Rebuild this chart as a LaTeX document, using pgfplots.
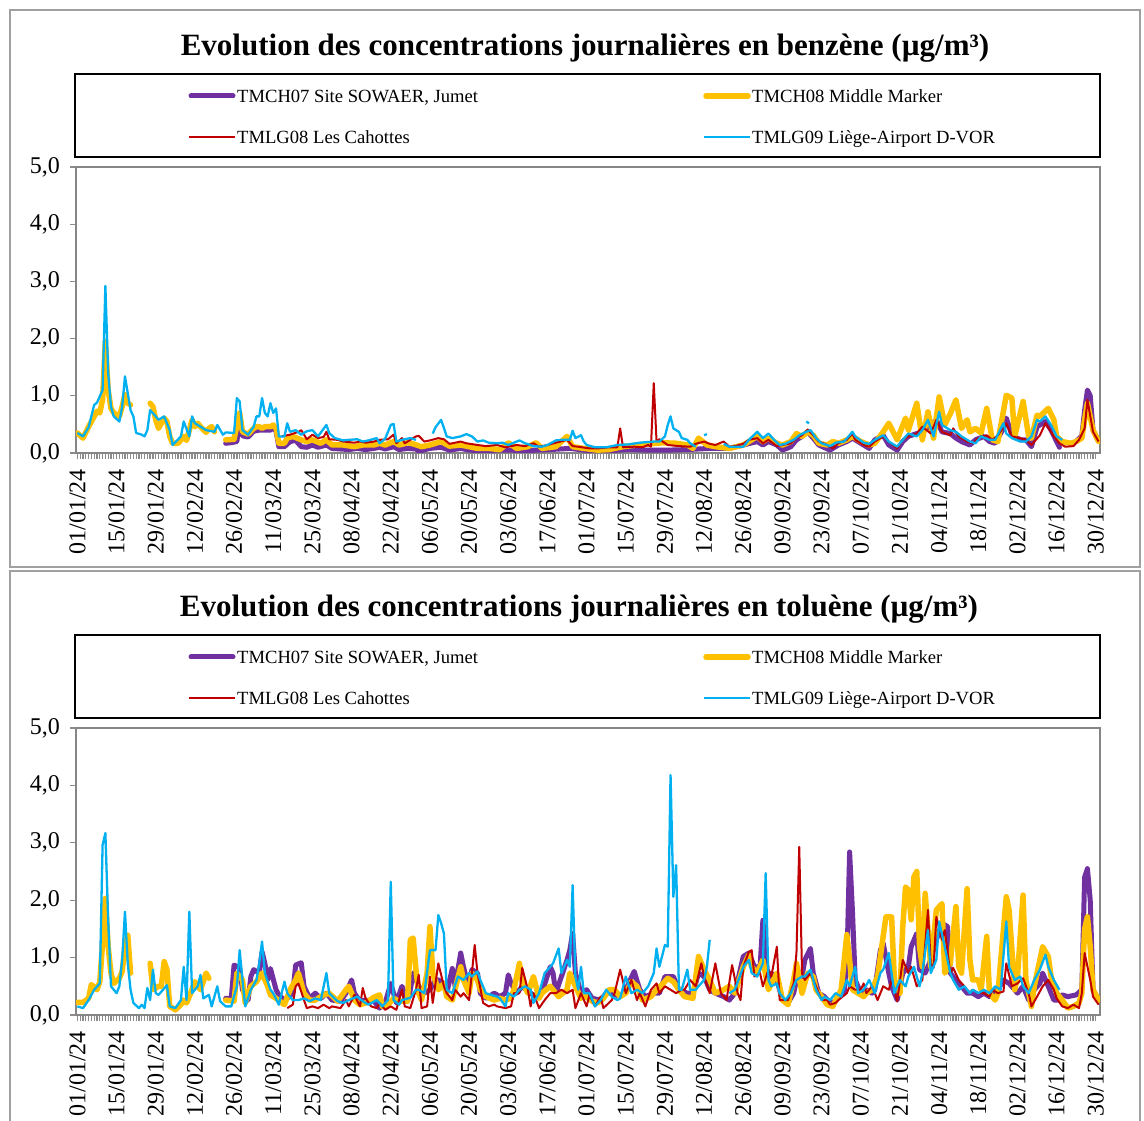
\documentclass[border=0pt]{standalone}
\usepackage{fontspec}
\setmainfont{Liberation Serif}
\usepackage{pgfplots}
\pgfplotsset{compat=1.18}
\definecolor{purp}{RGB}{112,48,160}
\definecolor{gold}{RGB}{255,192,0}
\definecolor{dred}{RGB}{192,0,0}
\definecolor{lblue}{RGB}{0,176,240}
\definecolor{axisgray}{RGB}{134,134,134}
\definecolor{tickgray}{RGB}{140,140,140}
\definecolor{framegray}{RGB}{160,160,160}
\pgfplotsset{
 panel/.style={
  scale only axis, width=1024pt, height=286pt, anchor=south west,
  xmin=-0.5, xmax=365.5, ymin=0, ymax=5,
  xtick={0,14,...,364},
  xticklabels={01/01/24,15/01/24,29/01/24,12/02/24,26/02/24,11/03/24,25/03/24,08/04/24,22/04/24,06/05/24,20/05/24,03/06/24,17/06/24,01/07/24,15/07/24,29/07/24,12/08/24,26/08/24,09/09/24,23/09/24,07/10/24,21/10/24,04/11/24,18/11/24,02/12/24,16/12/24,30/12/24},
  minor x tick num=13,
  ytick={0,1,2,3,4,5},
  tick align=outside,
  xtick pos=bottom, ytick pos=left,
  major tick length=6pt, minor tick length=6pt,
  every tick/.style={draw=tickgray, line width=1.3pt},
  axis line style={draw=axisgray, line width=2.4pt},
  tick label style={font=\fontsize{24}{28}\selectfont},
  xticklabel style={rotate=90, anchor=east, inner sep=1pt},
  yticklabel style={inner sep=1pt},
  xticklabel shift=9pt, yticklabel shift=9pt,
  /pgf/number format/use comma, /pgf/number format/fixed,
  /pgf/number format/fixed zerofill, /pgf/number format/precision=1,
  /pgf/number format/assume math mode=true,
  unbounded coords=jump,
 },
 sA/.style={draw=purp, line width=5pt, line join=round, line cap=round, no markers},
 sB/.style={draw=gold, line width=5.5pt, line join=round, line cap=round, no markers},
 sC/.style={draw=dred, line width=2pt, line join=round, no markers},
 sD/.style={draw=lblue, line width=2.3pt, line join=round, no markers},
}
\newcommand\legendblock[1]{%
  \draw[black, line width=2pt] (75,#1-83) rectangle (1100,#1);
  \draw[purp, line width=5pt, line cap=round] (191,#1-22) -- (233,#1-22);
  \node[anchor=base west, inner sep=0pt, font=\fontsize{18.6}{22}\selectfont] at (237,#1-28.5) {TMCH07 Site SOWAER, Jumet};
  \draw[gold, line width=5.5pt, line cap=round] (706,#1-22) -- (748,#1-22);
  \node[anchor=base west, inner sep=0pt, font=\fontsize{18.6}{22}\selectfont] at (752,#1-28.5) {TMCH08 Middle Marker};
  \draw[dred, line width=2pt] (189,#1-63) -- (235,#1-63);
  \node[anchor=base west, inner sep=0pt, font=\fontsize{18.6}{22}\selectfont] at (237,#1-69.5) {TMLG08 Les Cahottes};
  \draw[lblue, line width=2.3pt] (704,#1-63) -- (750,#1-63);
  \node[anchor=base west, inner sep=0pt, font=\fontsize{18.6}{22}\selectfont] at (752,#1-69.5) {TMLG09 Liège-Airport D-VOR};
}
\begin{document}
\begin{tikzpicture}[x=1pt,y=1pt]
\useasboundingbox (0,0) rectangle (1144,1120);
\fill[white] (0,0) rectangle (1144,1120);
% frames
\draw[framegray, line width=2.5pt] (10,553) rectangle (1140,1110);
\draw[framegray, line width=2.5pt] (10,-10) rectangle (1140,549);
% titles
\node[font=\bfseries\fontsize{31}{36}\selectfont] at (585,1072) {Evolution des concentrations journalières en benzène (µg/m³)};
\node[font=\bfseries\fontsize{31}{36}\selectfont] at (579,511) {Evolution des concentrations journalières en toluène (µg/m³)};
\legendblock{1046}
\legendblock{485}

% ---------------- benzene ----------------
\begin{axis}[panel, at={(76pt,667pt)}]
\addplot[sA] coordinates {(53,0.17)(55,0.18)(57,0.20)(58,0.60)(59,0.30)(61,0.28)(63,0.38)(65,0.40)(67,0.40)(69,0.40)(70,0.44)(71,0.38)(72,0.11)(74,0.11)(76,0.20)(78,0.22)(80,0.11)(82,0.10)(84,0.14)(86,0.10)(89,0.14)(91,0.08)(94,0.07)(97,0.06)(100,0.08)(103,0.06)(106,0.08)(108,0.10)(110,0.07)(113,0.11)(115,0.06)(118,0.08)(121,0.07)(122,0.03)(126,0.08)(130,0.10)(133,0.05)(137,0.08)(140,0.05)(145,0.04)(150,0.05)(155,0.05)(160,0.04)(164,0.05)(169,0.06)(176,0.08)(183,0.04)(190,0.04)(197,0.06)(204,0.05)(211,0.05)(218,0.06)(226,0.08)(233,0.08)(238,0.14)(243,0.20)(245,0.14)(247,0.20)(250,0.14)(252,0.05)(255,0.11)(257,0.23)(259,0.29)(261,0.37)(263,0.26)(265,0.14)(269,0.05)(272,0.14)(275,0.20)(277,0.26)(280,0.17)(283,0.08)(285,0.23)(288,0.31)(290,0.14)(293,0.05)(295,0.20)(297,0.29)(300,0.34)(302,0.37)(305,0.49)(307,0.58)(309,0.37)(312,0.34)(314,0.26)(316,0.20)(319,0.14)(321,0.23)(324,0.29)(326,0.20)(328,0.17)(331,0.43)(332,0.61)(334,0.31)(337,0.23)(339,0.23)(341,0.11)(343,0.46)(344,0.49)(346,0.55)(348,0.40)(350,0.20)(351,0.10)(352,nan)(357,0.20)(359,0.30)(360,0.75)(361,1.10)(362,1.00)(363,0.40)(365,0.20)};
\addplot[sB] coordinates {(0,0.35)(2,0.26)(4,0.46)(7,0.73)(8,0.70)(9,0.93)(10,1.95)(11,1.10)(12,0.78)(13,0.70)(15,0.64)(16,0.81)(17,1.02)(18,0.87)(19,0.84)(20,nan)(26,0.87)(27,0.81)(28,0.58)(29,0.43)(31,0.61)(32,0.55)(33,0.29)(34,0.17)(36,0.17)(38,0.29)(39,0.22)(41,0.58)(42,0.46)(43,0.52)(44,0.46)(46,0.36)(47,0.43)(48,0.46)(49,0.37)(50,nan)(53,0.23)(56,0.24)(58,0.70)(59,0.37)(61,0.33)(63,0.43)(64,0.46)(65,0.46)(66,0.43)(67,0.46)(69,0.46)(70,0.49)(71,0.43)(72,0.17)(74,0.17)(75,0.26)(77,0.29)(80,0.23)(82,0.20)(84,0.23)(87,0.17)(89,0.23)(91,0.14)(95,0.14)(99,0.11)(102,0.14)(106,0.14)(108,0.17)(110,0.14)(113,0.20)(115,0.14)(118,0.18)(120,0.16)(123,0.11)(126,0.14)(130,0.20)(133,0.12)(137,0.14)(143,0.08)(147,0.08)(151,0.06)(154,0.18)(157,0.08)(161,0.11)(164,0.18)(166,0.08)(171,0.11)(175,0.29)(177,0.11)(181,0.08)(186,0.05)(190,0.06)(195,0.11)(200,0.14)(205,0.16)(209,0.18)(214,0.17)(218,0.14)(220,0.08)(222,0.26)(225,0.14)(228,0.11)(233,0.08)(238,0.14)(240,0.20)(243,0.29)(245,0.20)(247,0.26)(250,0.17)(252,0.14)(255,0.20)(257,0.34)(259,0.29)(261,0.37)(263,0.31)(265,0.17)(268,0.14)(270,0.20)(272,0.17)(275,0.23)(277,0.29)(280,0.20)(283,0.14)(285,0.17)(288,0.37)(290,0.52)(293,0.23)(296,0.61)(297,0.40)(300,0.87)(302,0.23)(304,0.72)(306,0.26)(308,0.98)(310,0.49)(312,0.69)(314,0.93)(316,0.43)(318,0.58)(319,0.37)(321,0.43)(323,0.35)(325,0.78)(327,0.23)(329,0.20)(332,1.01)(334,0.96)(335,0.29)(338,0.90)(340,0.29)(341,0.26)(343,0.66)(344,0.64)(347,0.78)(349,0.58)(350,0.29)(352,0.20)(355,0.17)(357,0.20)(359,0.26)(360,0.58)(361,0.87)(363,0.40)(365,0.20)};
\addplot[sC] coordinates {(73,0.29)(76,0.32)(79,0.37)(80,0.40)(82,0.24)(84,0.32)(86,0.26)(88,0.28)(89,0.37)(90,0.24)(93,0.23)(95,0.20)(99,0.18)(101,0.20)(103,0.18)(106,0.20)(108,0.23)(111,0.24)(113,0.32)(114,0.17)(116,0.26)(117,0.17)(119,0.23)(121,0.29)(122,0.30)(124,0.20)(126,0.22)(129,0.26)(131,0.24)(133,0.16)(137,0.20)(139,0.17)(143,0.14)(146,0.12)(150,0.14)(153,0.10)(157,0.14)(160,0.12)(163,0.17)(165,0.11)(168,0.14)(171,0.18)(175,0.23)(177,0.12)(179,0.11)(183,0.08)(186,0.08)(190,0.10)(193,0.10)(194,0.43)(195,0.10)(199,0.11)(202,0.10)(204,0.14)(205,0.11)(206,1.22)(207,0.20)(208,0.24)(211,0.14)(215,0.12)(219,0.11)(221,0.16)(224,0.20)(226,0.16)(228,0.14)(231,0.20)(233,0.11)(235,0.12)(238,0.16)(240,0.23)(243,0.26)(245,0.17)(247,0.23)(250,0.12)(252,0.14)(255,0.17)(257,0.26)(259,0.31)(261,0.41)(263,0.31)(265,0.20)(268,0.14)(270,0.08)(272,0.17)(275,0.23)(277,0.34)(278,0.23)(281,0.14)(283,0.11)(285,0.20)(288,0.29)(290,0.20)(293,0.08)(295,0.23)(297,0.29)(300,0.34)(302,0.46)(305,0.34)(307,0.58)(309,0.37)(312,0.31)(313,0.43)(315,0.29)(318,0.20)(320,0.17)(322,0.26)(325,0.31)(327,0.23)(329,0.31)(332,0.52)(334,0.29)(337,0.26)(339,0.23)(341,0.14)(344,0.31)(346,0.52)(349,0.29)(351,0.17)(353,0.11)(356,0.12)(358,0.23)(360,0.43)(361,0.93)(363,0.37)(365,0.20)};
\addplot[sD] coordinates {(0,0.35)(2,0.29)(4,0.45)(6,0.84)(7,0.88)(9,1.10)(10,2.92)(11,1.40)(12,0.81)(13,0.64)(15,0.55)(16,0.81)(17,1.34)(19,0.75)(20,0.64)(21,0.35)(23,0.32)(24,0.29)(25,0.40)(26,0.75)(28,0.64)(29,0.58)(31,0.64)(33,0.40)(34,0.14)(37,0.29)(38,0.55)(40,0.29)(41,0.64)(42,0.52)(44,0.46)(46,0.40)(49,0.37)(50,0.49)(52,0.32)(53,0.36)(56,0.35)(57,0.96)(58,0.90)(59,0.40)(61,0.32)(63,0.46)(64,0.64)(65,0.64)(66,0.96)(67,0.70)(68,0.64)(69,0.87)(70,0.70)(71,0.78)(72,0.29)(74,0.29)(75,0.52)(76,0.37)(78,0.40)(80,0.32)(82,0.38)(84,0.40)(86,0.29)(89,0.49)(90,0.35)(92,0.26)(95,0.22)(97,0.23)(100,0.24)(102,0.20)(104,0.22)(107,0.26)(108,0.17)(110,0.25)(112,0.49)(113,0.51)(114,0.20)(116,0.23)(119,0.26)(121,0.23)(122,nan)(127,0.34)(128,0.45)(130,0.58)(132,0.29)(134,0.26)(137,0.29)(139,0.33)(141,0.29)(143,0.20)(145,0.22)(147,0.18)(150,0.17)(152,0.18)(154,0.14)(158,0.22)(160,0.17)(163,0.12)(166,0.11)(168,0.14)(171,0.22)(173,0.23)(176,0.23)(177,0.39)(178,0.26)(180,0.31)(181,0.20)(182,0.14)(185,0.10)(189,0.10)(193,0.14)(197,0.15)(201,0.18)(206,0.20)(208,0.20)(210,0.29)(211,0.49)(212,0.64)(213,0.43)(215,0.37)(216,0.26)(218,0.23)(219,0.17)(221,0.11)(222,nan)(224,0.31)(225,0.33)(226,nan)(231,0.16)(233,0.11)(238,0.11)(240,0.23)(243,0.37)(245,0.26)(247,0.34)(249,0.23)(251,0.14)(253,0.16)(256,0.23)(258,0.31)(260,0.36)(262,0.40)(264,0.26)(266,0.17)(269,0.12)(271,0.18)(274,0.20)(276,0.31)(277,0.37)(278,0.29)(281,0.18)(283,0.16)(285,0.23)(288,0.31)(290,0.20)(293,0.11)(295,0.23)(297,0.34)(300,0.29)(302,0.40)(304,0.58)(306,0.29)(308,0.72)(309,0.49)(312,0.40)(314,0.37)(316,0.29)(319,0.20)(321,0.17)(323,0.29)(326,0.23)(328,0.23)(331,0.52)(332,0.34)(334,0.26)(337,0.20)(339,0.20)(341,0.29)(343,0.58)(344,0.55)(346,0.64)(348,0.49)(350,0.29)(352,0.23)};
\addplot[sD, forget plot] coordinates {(260.5,0.55)(261.5,0.52)};
\end{axis}

% ---------------- toluene ----------------
\begin{axis}[panel, at={(76pt,105pt)}, height=287pt]
\addplot[sA] coordinates {(53,0.29)(55,0.29)(56,0.87)(58,0.82)(59,0.44)(61,0.26)(62,0.67)(63,0.79)(65,0.73)(66,1.10)(67,0.90)(68,0.61)(69,0.81)(71,0.44)(72,0.35)(74,0.26)(75,0.29)(77,0.38)(78,0.87)(80,0.91)(81,0.50)(83,0.29)(85,0.38)(87,0.29)(89,0.38)(91,0.26)(94,0.24)(96,0.38)(98,0.61)(99,0.38)(101,0.24)(103,0.26)(106,0.24)(108,0.12)(110,0.21)(112,0.55)(114,0.21)(116,0.50)(118,0.24)(119,0.44)(120,0.73)(122,0.50)(124,0.38)(126,0.44)(128,0.61)(129,0.61)(131,0.55)(132,0.38)(134,0.81)(135,0.50)(137,1.08)(138,0.84)(140,0.44)(141,0.79)(143,0.73)(144,0.38)(146,0.29)(149,0.38)(151,0.32)(153,0.38)(154,0.70)(155,0.55)(157,0.38)(159,0.50)(162,0.38)(164,0.32)(166,0.38)(169,0.84)(170,0.73)(171,0.38)(173,0.67)(175,0.96)(176,1.13)(177,1.42)(178,0.73)(180,0.38)(182,0.44)(184,0.29)(187,0.26)(189,0.38)(191,0.38)(194,0.32)(196,0.44)(199,0.76)(201,0.44)(203,0.32)(206,0.38)(208,0.38)(210,0.67)(213,0.67)(215,0.44)(218,0.38)(220,0.38)(222,0.73)(224,0.67)(226,0.44)(228,0.38)(231,0.32)(233,0.26)(235,0.38)(238,1.02)(240,1.08)(242,0.84)(244,0.84)(245,1.65)(247,0.50)(248,0.73)(250,0.61)(252,0.26)(254,0.21)(256,0.38)(257,0.61)(259,0.67)(260,0.96)(262,1.16)(263,0.73)(265,0.38)(267,0.32)(269,0.21)(271,0.24)(272,0.32)(274,0.38)(275,0.84)(276,2.84)(277,1.83)(278,0.61)(280,0.38)(282,0.44)(284,0.38)(285,0.44)(287,1.13)(288,1.25)(290,0.73)(291,0.50)(293,0.26)(295,0.73)(297,0.84)(298,1.19)(300,1.42)(301,0.79)(303,0.73)(305,0.96)(307,1.31)(309,1.60)(311,1.54)(312,0.73)(314,0.61)(316,0.50)(318,0.38)(320,0.38)(322,0.32)(324,0.38)(326,0.32)(327,0.38)(329,0.44)(331,0.61)(333,0.55)(335,0.44)(336,0.38)(338,0.50)(340,0.26)(342,0.44)(344,0.55)(345,0.73)(347,0.50)(349,0.26)(351,0.26)(352,0.35)(354,0.32)(357,0.35)(359,0.44)(360,2.40)(361,2.55)(362,2.00)(363,0.44)(365,0.26)};
\addplot[sB] coordinates {(0,0.22)(2,0.22)(4,0.29)(5,0.53)(7,0.44)(8,0.58)(9,1.25)(10,2.03)(11,1.19)(12,0.73)(13,0.55)(15,0.64)(16,0.76)(17,1.19)(18,1.39)(19,0.73)(20,nan)(26,0.90)(27,0.44)(29,0.50)(30,0.50)(31,0.93)(32,0.79)(33,0.15)(35,0.09)(37,0.18)(38,0.26)(39,0.21)(40,0.32)(42,0.58)(44,0.44)(46,0.73)(47,0.64)(48,nan)(53,0.26)(56,0.24)(57,0.73)(59,0.61)(60,0.21)(62,0.50)(64,0.58)(66,0.73)(68,0.50)(69,0.35)(71,0.29)(74,0.18)(76,0.44)(78,0.61)(79,0.73)(81,0.38)(83,0.26)(85,0.26)(88,0.35)(90,0.38)(93,0.24)(96,0.44)(97,0.50)(99,0.26)(101,0.18)(103,0.21)(106,0.31)(108,0.35)(109,0.15)(111,0.18)(113,0.29)(115,0.24)(118,0.24)(119,1.31)(120,1.34)(121,0.79)(122,0.38)(123,0.26)(125,0.73)(126,1.54)(127,0.73)(129,0.44)(131,0.55)(132,0.32)(134,0.26)(137,0.84)(138,0.61)(140,0.38)(141,0.73)(143,0.61)(144,0.44)(146,0.32)(149,0.26)(151,0.29)(153,0.26)(155,0.29)(156,0.44)(158,0.90)(159,0.58)(161,0.38)(163,0.67)(165,0.29)(166,0.38)(169,0.50)(170,0.44)(172,0.32)(175,0.44)(176,0.73)(178,0.50)(180,0.29)(181,0.35)(184,0.24)(186,0.21)(188,0.29)(190,0.44)(192,0.44)(194,0.32)(196,0.38)(198,0.58)(200,0.50)(202,0.26)(205,0.32)(207,0.44)(209,0.53)(211,0.64)(213,0.58)(215,0.44)(217,0.32)(220,0.29)(222,1.02)(224,0.79)(226,0.61)(228,0.38)(231,0.44)(233,0.50)(235,0.38)(238,0.84)(240,1.05)(241,0.84)(243,0.73)(245,0.96)(247,0.44)(248,0.55)(250,0.73)(252,0.26)(254,0.18)(256,0.61)(257,0.90)(259,0.38)(261,0.73)(263,0.67)(264,0.44)(266,0.32)(268,0.18)(270,0.15)(272,0.35)(273,0.44)(275,1.40)(276,0.96)(277,0.44)(279,0.38)(281,0.32)(282,0.38)(284,0.44)(286,0.67)(288,1.37)(289,1.71)(291,1.71)(292,0.61)(294,0.38)(295,1.54)(296,2.23)(297,2.18)(298,1.66)(299,2.41)(300,2.50)(301,1.19)(302,0.84)(303,2.12)(305,0.84)(307,1.83)(309,1.94)(310,0.73)(312,0.90)(314,1.89)(315,0.84)(316,0.73)(318,2.20)(319,0.96)(320,0.61)(322,0.61)(323,0.44)(325,1.37)(326,0.38)(328,0.26)(329,0.38)(332,2.06)(333,1.83)(335,0.44)(336,0.67)(338,2.09)(339,0.61)(341,0.15)(342,0.50)(345,1.19)(347,1.02)(348,0.67)(350,0.38)(352,0.26)(354,0.12)(356,0.15)(358,0.21)(359,0.38)(360,1.50)(361,1.71)(362,1.19)(363,0.44)(365,0.26)};
\addplot[sC] coordinates {(75,0.12)(77,0.18)(78,0.50)(79,0.55)(81,0.26)(82,0.12)(84,0.15)(86,0.12)(88,0.18)(90,0.12)(91,0.15)(94,0.12)(96,0.26)(97,0.15)(99,0.35)(101,0.15)(102,0.47)(103,0.29)(105,0.15)(107,0.12)(108,0.21)(110,0.09)(112,0.15)(114,0.09)(116,0.44)(117,0.15)(119,0.12)(121,0.44)(122,0.70)(123,0.12)(125,0.15)(126,0.67)(127,0.21)(129,0.90)(131,0.50)(132,0.38)(134,0.26)(135,0.44)(137,0.32)(138,0.38)(140,0.26)(141,0.73)(142,1.22)(143,0.73)(145,0.21)(147,0.15)(149,0.18)(150,0.15)(153,0.12)(155,0.15)(156,0.38)(158,0.38)(159,0.82)(161,0.44)(162,0.15)(163,0.38)(165,0.12)(167,0.26)(169,0.38)(171,0.38)(173,0.44)(175,0.38)(177,0.44)(178,0.12)(180,0.38)(182,0.15)(183,0.35)(185,0.15)(187,0.32)(188,0.12)(191,0.26)(192,0.38)(194,0.79)(196,0.38)(198,0.61)(200,0.26)(201,0.38)(203,0.15)(205,0.44)(207,0.55)(208,0.38)(210,0.50)(212,0.44)(214,0.38)(216,0.44)(217,0.44)(219,0.61)(221,0.50)(223,0.90)(224,0.67)(226,0.38)(228,0.90)(230,0.38)(232,0.26)(234,0.87)(236,0.38)(237,0.26)(238,0.84)(240,1.10)(241,1.13)(242,0.67)(244,0.73)(245,0.50)(247,0.79)(248,0.67)(250,1.19)(251,0.26)(252,0.26)(254,0.26)(256,0.55)(257,1.08)(258,2.93)(259,0.73)(260,0.61)(262,0.73)(264,0.50)(266,0.26)(268,0.26)(269,0.18)(271,0.21)(272,0.26)(275,0.38)(276,0.50)(278,0.44)(280,0.44)(281,0.55)(282,0.38)(284,0.50)(286,0.26)(288,0.50)(290,0.44)(291,0.61)(293,0.24)(295,0.96)(297,0.73)(298,0.84)(300,0.50)(302,0.61)(304,1.83)(305,0.90)(306,0.82)(307,1.71)(309,1.31)(310,1.48)(312,0.73)(313,0.82)(315,0.61)(317,0.50)(319,0.38)(320,0.44)(322,0.38)(324,0.38)(326,0.32)(327,0.44)(329,0.38)(331,0.41)(332,0.90)(334,0.50)(336,0.55)(338,0.64)(340,0.38)(341,0.15)(343,0.32)(345,0.50)(347,0.61)(349,0.44)(350,0.29)(352,0.15)(354,0.12)(356,0.18)(358,0.12)(359,0.38)(360,1.08)(362,0.61)(363,0.32)(365,0.18)};
\addplot[sD] coordinates {(0,0.15)(2,0.12)(4,0.26)(6,0.44)(8,0.55)(9,2.96)(10,3.17)(11,1.66)(12,0.50)(14,0.38)(15,0.50)(16,0.96)(17,1.80)(18,0.90)(19,0.44)(20,0.21)(22,0.12)(23,0.18)(24,0.12)(25,0.47)(26,0.26)(27,0.79)(28,0.38)(29,0.35)(32,0.52)(33,0.15)(35,0.12)(37,0.26)(38,0.84)(39,0.26)(40,1.80)(41,0.38)(43,0.50)(44,0.70)(45,0.29)(47,0.35)(48,0.15)(50,0.50)(51,0.24)(53,0.15)(55,0.15)(57,0.50)(58,1.13)(59,0.61)(60,0.15)(62,0.44)(64,0.61)(65,0.90)(66,1.28)(67,0.73)(69,0.44)(70,0.38)(72,0.18)(73,0.38)(74,0.58)(75,0.38)(77,0.26)(79,0.26)(81,0.29)(83,0.24)(85,0.29)(87,0.26)(89,0.73)(90,0.38)(93,0.24)(95,0.21)(97,0.26)(100,0.32)(102,0.24)(104,0.18)(107,0.26)(109,0.15)(111,0.26)(112,2.32)(113,0.26)(115,0.18)(116,0.26)(119,0.30)(121,0.44)(122,0.44)(124,0.38)(126,1.13)(128,1.13)(129,1.74)(130,1.60)(131,1.42)(132,0.44)(134,0.38)(136,0.67)(138,0.61)(140,0.73)(141,0.67)(143,0.76)(144,0.61)(146,0.38)(148,0.35)(150,0.32)(151,0.29)(153,0.15)(154,0.38)(156,0.32)(158,0.44)(160,0.50)(162,0.44)(163,0.21)(165,0.38)(167,0.73)(169,0.84)(170,0.90)(172,1.16)(173,0.73)(175,0.96)(176,0.84)(177,2.26)(178,0.67)(179,0.44)(180,0.84)(181,0.38)(183,0.38)(185,0.15)(187,0.26)(189,0.44)(191,0.32)(193,0.26)(194,0.29)(196,0.67)(198,0.38)(200,0.44)(202,0.38)(204,0.50)(206,0.73)(207,1.16)(208,0.84)(210,1.22)(211,1.19)(212,4.18)(213,2.06)(214,2.61)(215,0.44)(216,0.44)(218,0.79)(219,0.44)(221,0.44)(222,0.50)(224,0.61)(225,0.84)(226,1.31)(227,nan)(233,0.38)(235,0.44)(238,0.84)(240,0.96)(241,0.73)(243,0.67)(245,0.90)(246,2.47)(247,0.61)(248,0.50)(250,0.55)(251,0.38)(253,0.26)(255,0.38)(257,0.61)(259,0.67)(260,0.67)(262,0.79)(264,0.44)(266,0.26)(267,0.32)(269,0.26)(271,0.38)(273,0.32)(275,0.61)(276,0.50)(278,0.84)(279,0.38)(281,0.44)(283,0.61)(285,0.38)(287,0.73)(288,0.79)(290,1.08)(292,0.38)(294,0.61)(296,0.50)(297,0.67)(299,0.84)(301,0.50)(302,0.73)(304,1.48)(305,0.73)(307,0.96)(308,1.63)(310,1.19)(312,0.73)(313,0.61)(315,0.44)(317,0.50)(319,0.38)(320,0.44)(322,0.38)(324,0.44)(326,0.38)(328,0.50)(330,0.44)(332,1.63)(333,0.84)(335,0.61)(337,0.67)(338,0.50)(340,0.38)(342,0.61)(344,0.79)(346,1.05)(347,0.84)(349,0.61)(351,0.44)};
\end{axis}
\end{tikzpicture}
\end{document}
